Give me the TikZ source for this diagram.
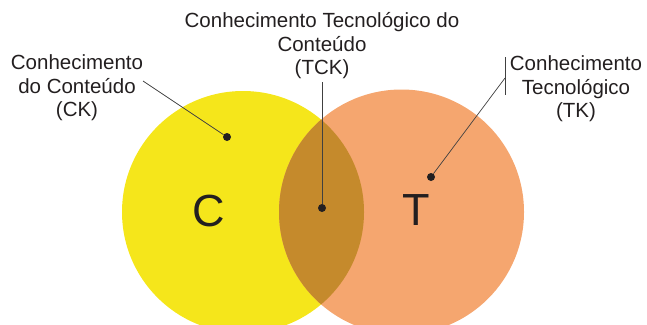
\documentclass[tikz,border=0pt]{standalone}
\usepackage{fontspec}
\setmainfont{Liberation Sans}
\usepackage{xcolor}
\definecolor{ckyellow}{HTML}{F5E61B}
\definecolor{tkorange}{HTML}{F5A66F}
\definecolor{tcklens}{HTML}{C58A2C}
\definecolor{inktext}{HTML}{231F20}

\begin{document}
\begin{tikzpicture}[x=1pt,y=-1pt,
    dot/.style={shape=circle, inner sep=0pt, minimum size=8pt, fill=inktext},
    lbl/.style={align=center, inner sep=0pt, text=inktext, font=\fontsize{20.5}{23.5}\selectfont},
    big/.style={inner sep=0pt, text=inktext, font=\fontsize{45}{45}\selectfont},
    lead/.style={draw=black!75, line width=0.7pt}]
    \useasboundingbox (0,0) rectangle (647,324);

    \fill[ckyellow] (243,212) circle[radius=121pt];
    \fill[tkorange] (401.5,212) circle[radius=122.5pt];
    \begin{scope}
      \clip (243,212) circle[radius=121pt];
      \fill[tcklens] (401.5,212) circle[radius=122.5pt];
    \end{scope}

    \node[big] (c) at (209,211) {C};
    \node[big] (t) at (416,210) {T};

    \node[dot] (ckdot) at (227,137) {};
    \node[dot] (tckdot) at (322,208) {};
    \node[dot] (tkdot) at (431,177) {};

    \node[lbl] (ck) at (77,88) {Conhecimento\\do Conteúdo\\(CK)};
    \node[lbl] (tck) at (322,46) {Conhecimento Tecnológico do\\Conteúdo\\(TCK)};
    \node[lbl] (tk) at (576,89) {Conhecimento\\Tecnológico\\(TK)};

    \coordinate (ckend) at (143,81);
    \coordinate (tckend) at (322,82);
    \coordinate (tkbartop) at (505,57);
    \coordinate (tkbarbot) at (505,95);
    \coordinate (tkend) at (505,78);

    \draw[lead] (ckend) -- (ckdot);
    \draw[lead] (tckend) -- (tckdot);
    \draw[lead] (tkbartop) -- (tkbarbot);
    \draw[lead] (tkend) -- (tkdot);
\end{tikzpicture}
\end{document}
